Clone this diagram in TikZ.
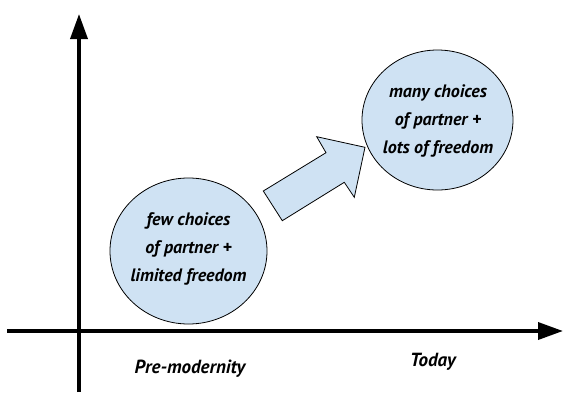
\documentclass[tikz,border=0pt]{standalone}
\usepackage{fontspec}
\setmainfont{PT Sans}
\usetikzlibrary{arrows.meta,shapes.geometric}
\definecolor{bubble}{HTML}{CFE2F3}
\tikzset{
  axis/.style={line width=3.6pt,-{Triangle[length=25pt,width=17pt]}},
  bubblebox/.style={ellipse,draw=black,line width=0.8pt,fill=bubble,inner sep=0pt},
  bubbletext/.style={align=center,inner sep=0pt,font=\bfseries\itshape\fontsize{18}{28}\selectfont},
  bigarrow/.style={draw=black,line width=0.8pt,fill=bubble,line join=miter},
  axislabel/.style={font=\bfseries\itshape\fontsize{19}{22}\selectfont,anchor=center}
}
\begin{document}
\begin{tikzpicture}[x=1pt,y=-1pt]
\useasboundingbox (0,0) rectangle (579,408);
\coordinate (xs) at (7,331);
\coordinate (xe) at (563,331);
\coordinate (ys) at (79,392);
\coordinate (ye) at (79,14);
\draw[axis] (xs) -- (xe);
\draw[axis] (ys) -- (ye);
\node[bubblebox,minimum width=157pt,minimum height=146pt] (past) at (188.5,251) {};
\node[bubbletext] (pasttext) at (188.5,249) {few choices\\of partner +\\limited freedom};
\node[bubblebox,minimum width=151pt,minimum height=140pt] (now) at (437.5,120) {};
\node[bubbletext] (nowtext) at (438,121) {many choices\\of partner +\\lots of freedom};
\draw[bigarrow] (263.3,191) -- (326,152.7) -- (316.7,136.7) -- (365,147.3)
  -- (354.3,197.3) -- (344.3,182.3) -- (282.3,220.7) -- cycle;
\node[axislabel] (pre) at (190,369) {Pre-modernity};
\node[axislabel] (today) at (433,362) {Today};
\end{tikzpicture}
\end{document}
